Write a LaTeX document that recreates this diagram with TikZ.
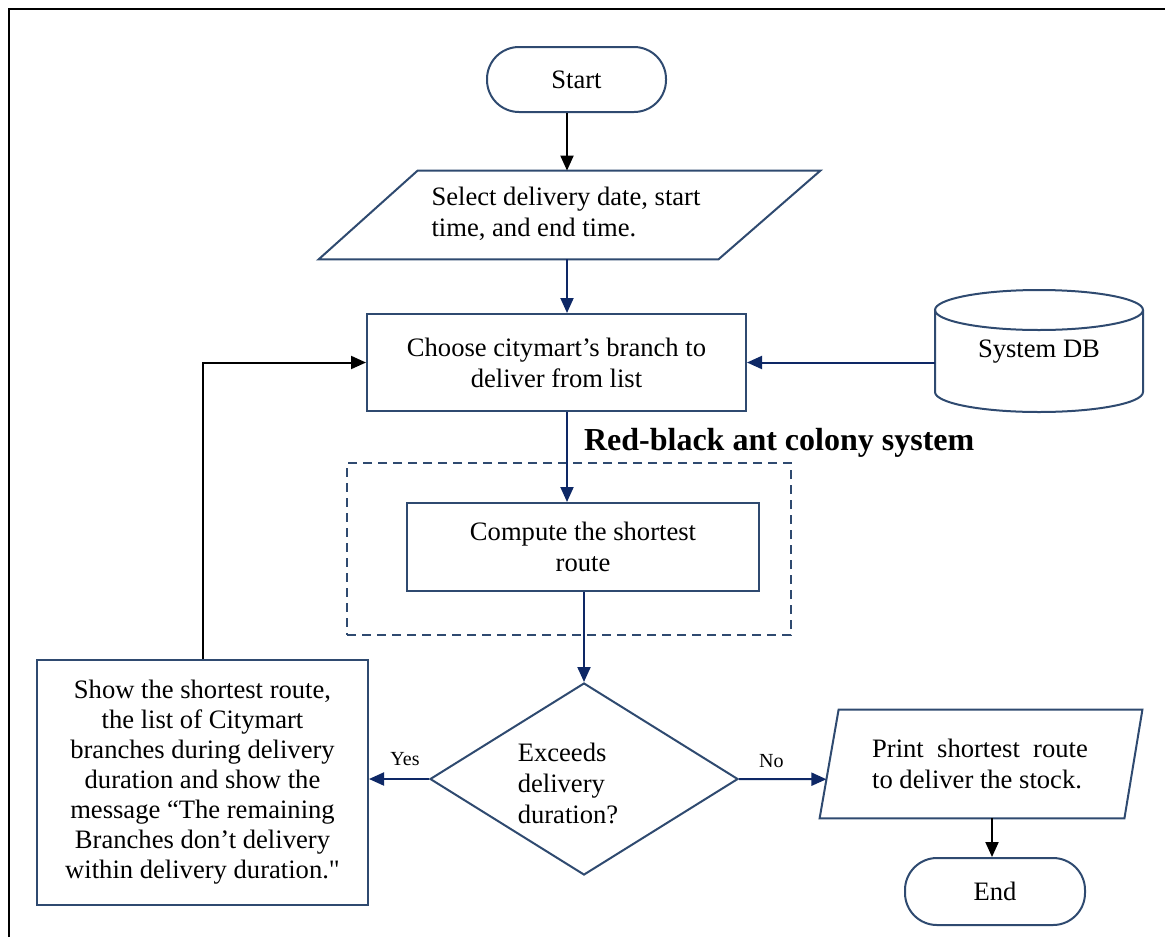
\documentclass[tikz,border=0pt]{standalone}
\usepackage{fontspec}
\setmainfont{Liberation Serif}
\newfontfamily\rawserif{Liberation Serif}
\usetikzlibrary{shapes.geometric,arrows.meta,calc}
\definecolor{boxc}{HTML}{2F4A70}
\definecolor{arrc}{HTML}{0E2866}
\begin{document}
\begin{tikzpicture}[x=0.5pt,y=-0.5pt,
 every node/.style={font=\fontsize{13.3}{15.5}\selectfont},
 box/.style={draw=boxc, line width=1pt, inner sep=0pt},
 term/.style={box, rounded corners=16pt},
 flow/.style={arrc, line width=1pt, -{Triangle[length=7.5pt,width=6.5pt]}},
 bflow/.style={black, line width=1pt, -{Triangle[length=7.5pt,width=6.5pt]}},
 ghost/.style={inner sep=0pt, draw=none},
 lbl/.style={font=\fontsize{10}{12}\selectfont, text=black},
 groupbox/.style={draw=boxc, line width=1pt, dash pattern=on 4.5pt off 3pt, inner sep=0pt}
]
\useasboundingbox (0,0) rectangle (1165,937);
\fill[white] (0,0) rectangle (1165,937);
\draw[black, line width=1.1pt] (9,937) -- (9,9) -- (1165,9);

\coordinate (ax) at (567,0);
\coordinate (ex) at (992,0);

% Start
\node[term, minimum width=89.5pt, minimum height=32.5pt] (start) at (576.5,79.5) {Start};

% Select (parallelogram)
\node[ghost, minimum width=250.5pt, minimum height=44pt] (sel) at (569.5,215) {};
\draw[box] (sel.south west) -- ($(sel.north west)+(99,0)$) -- (sel.north east) -- ($(sel.south east)+(-102,0)$) -- cycle;
\node[align=left] (selt) at (566,214) {Select delivery date, start\\time, and end time.};

% Choose
\node[box, minimum width=189.5pt, minimum height=48.5pt, align=center] (choose) at (556.5,362.5) {Choose citymart’s branch to\\deliver from list};

% System DB (cylinder)
\node[ghost, minimum width=104pt, minimum height=61pt] (db) at (1039,351) {};
\draw[box] (1039,310) ellipse[x radius=52pt, y radius=10pt];
\draw[box] (935,310) -- (935,392) arc[start angle=180, end angle=360, x radius=52pt, y radius=10pt] -- (1143,310);
\node (dbt) at (1039,352) {System DB};

% Red-black label and group
\node[font=\bfseries\fontsize{16}{19}\selectfont, anchor=west] (rb) at (577,443) {Red-black ant colony system};
\node[groupbox, minimum width=222pt, minimum height=86pt] (acs) at (569,549) {};

% Compute
\node[box, minimum width=176pt, minimum height=44pt, align=center] (comp) at (583,547) {Compute the shortest\\route};

% Decision
\node[diamond, box, minimum width=154pt, minimum height=96pt] (dia) at (584,779) {};
\node[align=left] (diat) at (568,783) {Exceeds\\delivery\\duration?};

% Show box
\node[box, minimum width=165.5pt, minimum height=122.5pt, align=center, font=\fontsize{13.3}{15}\selectfont] (show) at (202.5,782.5) {Show the shortest route,\\the list of Citymart\\branches during delivery\\duration and show the\\message “The remaining\\Branches don’t delivery\\within delivery duration.{\rawserif"}};

% Print (parallelogram)
\node[ghost, minimum width=161pt, minimum height=54pt] (print) at (981,764) {};
\draw[box] (print.south west) -- ($(print.north west)+(19,0)$) -- (print.north east) -- ($(print.south east)+(-18,0)$) -- cycle;
\node[align=left] (printt) at (980,764) {Print\ \ shortest\ \ route\\to deliver the stock.};
\coordinate (pin) at ($(print.south west)!0.36!($(print.north west)+(19,0)$)$);

% End
\node[term, minimum width=90pt, minimum height=33.5pt] (end) at (995,891.5) {End};

% Connectors
\draw[bflow] (start.south -| ax) -- (sel.north -| ax);
\draw[flow] (sel.south -| ax) -- (choose.north -| ax);
\draw[flow] (db.west |- choose.east) -- (choose.east);
\draw[flow] (choose.south -| ax) -- (comp.north -| ax);
\draw[flow] (comp.south -| dia.north) -- (dia.north);
\draw[flow] (dia.west) -- (show.east |- dia.west) node[lbl, pos=0.4, above, yshift=3pt] {Yes};
\draw[flow] (dia.east) -- (pin) node[lbl, pos=0.37, above, yshift=2pt] {No};
\draw[bflow] (print.south -| ex) -- (end.north -| ex);
\draw[bflow] (show.north) |- (choose.west);
\end{tikzpicture}
\end{document}
